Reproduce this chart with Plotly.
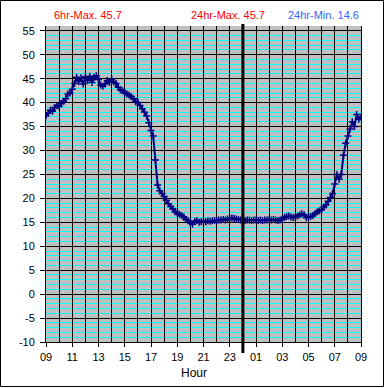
import plotly.graph_objects as go

# ---- data (hours since 09:00, 10-minute readings) ----
hours = [i / 6 for i in range(145)]
temps = [
    37.3, 37.8, 38.4, 38.2, 39.0, 39.4,   # 09
    39.2, 39.8, 40.3, 40.8, 41.8, 42.0,   # 10
    42.8, 44.0, 45.3, 44.4, 45.2, 43.9,   # 11
    45.4, 44.6, 45.5, 44.2, 45.3, 45.6,   # 12
    44.8, 43.6, 43.4, 43.9, 44.6, 44.2,   # 13
    44.9, 44.3, 44.0, 43.2, 42.7, 42.5,   # 14
    42.0, 41.8, 41.6, 41.2, 40.8, 40.2,   # 15
    40.0, 39.4, 38.7, 38.0, 37.2, 35.8,   # 16
    34.2, 33.0, 28.0, 22.8, 21.6, 21.0,   # 17
    20.4, 19.6, 18.9, 18.3, 17.8, 17.2,   # 18
    16.9, 16.7, 16.4, 16.1, 15.6, 15.3,   # 19
    14.9, 14.6, 15.2, 15.4, 15.0, 15.1,   # 20
    15.2, 15.1, 15.3, 15.2, 15.3, 15.4,   # 21
    15.4, 15.5, 15.5, 15.6, 15.5, 15.7,   # 22
    15.8, 15.9, 15.8, 15.7, 15.6, 15.5,   # 23
    15.5, 15.4, 15.5, 15.5, 15.4, 15.5,   # 00
    15.5, 15.4, 15.5, 15.4, 15.5, 15.5,   # 01
    15.6, 15.5, 15.6, 15.5, 15.4, 15.5,   # 02
    15.7, 16.0, 16.2, 16.3, 16.1, 16.0,   # 03
    16.1, 16.3, 16.6, 16.8, 16.5, 16.0,   # 04
    16.1, 16.2, 16.4, 16.8, 17.2, 17.4,   # 05
    17.6, 18.2, 18.6, 19.4, 20.2, 21.0,   # 06
    23.0, 25.0, 24.0, 25.0, 29.0, 31.5,   # 07
    33.0, 34.5, 36.0, 35.0, 37.5, 36.5,   # 08
    37.0,                                 # 09
]
x_gridvals = list(range(0, 25))
x_tickvals = list(range(0, 25, 2))
x_ticktext = ["09", "11", "13", "15", "17", "19", "21", "23", "01", "03", "05", "07", "09"]
y_tickvals = list(range(-10, 56, 5))
y_ticktext = [str(v) for v in y_tickvals]
stats = ["6hr-Max. 45.7", "24hr-Max. 45.7", "24hr-Min. 14.6"]
midnight = 15

W, H = 385, 388
L, R, T, B = 46, 24, 26, 46
PW, PH = W - L - R, H - T - B


def px(x):
    return (x - L) / PW


def py(y):
    return (H - B - y) / PH


FONT = "Liberation Sans, Arial, sans-serif"

fig = go.Figure()
fig.add_trace(go.Scatter(
    x=hours, y=temps, mode="lines+markers", xaxis="x2", yaxis="y",
    line=dict(color="#000080", width=2),
    marker=dict(symbol="cross-thin", size=5, line=dict(color="#000080", width=1.5)),
    showlegend=False, hoverinfo="skip",
))

fig.update_layout(
    width=W, height=H,
    margin=dict(l=L, r=R, t=T, b=B),
    paper_bgcolor="white", plot_bgcolor="#c0c0c0",
    font=dict(family=FONT, size=11, color="black"),
    xaxis=dict(
        range=[0, 24], tickvals=x_gridvals, showticklabels=False, ticks="",
        showgrid=True, gridcolor="black", gridwidth=1,
        showline=True, linecolor="black", linewidth=1, mirror=False,
        zeroline=False,
    ),
    xaxis2=dict(
        range=[0, 24], overlaying="x", anchor="y", side="bottom",
        tickvals=x_tickvals, ticktext=x_ticktext,
        showgrid=False, zeroline=False, showline=False,
        ticks="outside", ticklen=4, tickcolor="black",
        tickfont=dict(size=11), ticklabelstandoff=1,
    ),
    yaxis=dict(
        range=[-10, 56], tickvals=y_tickvals, ticktext=y_ticktext,
        showgrid=True, gridcolor="black", gridwidth=1,
        minor=dict(dtick=1, showgrid=True, gridcolor="#00ffff", gridwidth=1, ticks=""),
        ticks="outside", ticklen=5, tickcolor="black",
        showline=True, linecolor="black", linewidth=1, mirror=True,
        zeroline=False, tickfont=dict(size=11), ticklabelstandoff=3,
    ),
    shapes=[
        dict(type="line", xref="x", yref="paper", x0=midnight, x1=midnight,
             y0=py(353), y1=py(24), line=dict(color="black", width=3)),
        dict(type="rect", xref="paper", yref="paper",
             x0=px(0.5), x1=px(W - 1.5), y0=py(H - 1.5), y1=py(0.5),
             line=dict(color="black", width=1)),
    ],
    annotations=[
        dict(text=stats[0], x=px(87.5), y=py(15), xref="paper", yref="paper",
             xanchor="center", yanchor="middle",
             showarrow=False, font=dict(color="#ff0000", size=11)),
        dict(text=stats[1], x=px(228), y=py(15), xref="paper", yref="paper",
             xanchor="center", yanchor="middle",
             showarrow=False, font=dict(color="#ff0000", size=11)),
        dict(text=stats[2], x=px(323.5), y=py(15), xref="paper", yref="paper",
             xanchor="center", yanchor="middle",
             showarrow=False, font=dict(color="#3366ff", size=11)),
        dict(text="Hour", x=px(194), y=py(373), xref="paper", yref="paper",
             xanchor="center", yanchor="middle",
             showarrow=False, font=dict(color="black", size=12)),
    ],
)

fig.write_html("out.html", config={"displayModeBar": False},
               post_script="document.body.style.margin='0';")
